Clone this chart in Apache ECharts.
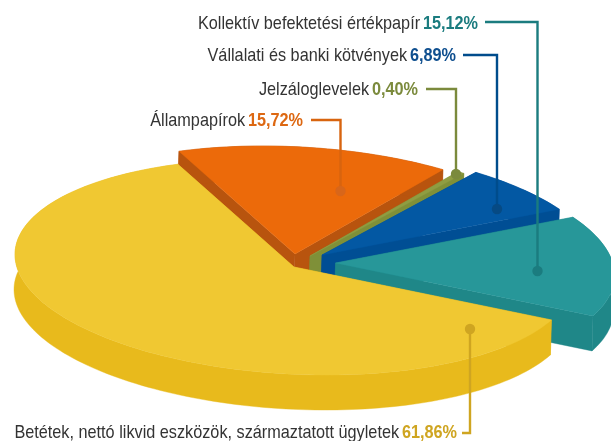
<!DOCTYPE html>
<html><head><meta charset="utf-8">
<style>html,body{margin:0;padding:0;background:#fff}#c{width:611px;height:441px}</style>
<script src="https://cdn.jsdelivr.net/npm/echarts@6/dist/echarts.min.js"></script>
</head><body><div id="c"></div>
<script>
// Data, in pie order (clockwise from the start angle)
const categories = ['Betétek, nettó likvid eszközök, származtatott ügyletek','Állampapírok','Jelzáloglevelek','Vállalati és banki kötvények','Kollektív befektetési értékpapír'];
const shares = [61.86,15.72,0.40,6.89,15.12];
const shareLabels = ['61,86%','15,72%','0,40%','6,89%','15,12%'];
// Styling
const topColors  = ['#F0C832','#EC6A0A','#8F9D42','#0358A3','#279799'];
const sideColors = ['#E8BA1C','#B8540E','#7F9038','#004E94','#1F8788'];
const lineColors = ['#CFA521','#D8640F','#7B8A3C','#004C8C','#1B7C7F'];
const dotColors  = ['#CFA521','#D8661A','#7B8A3C','#064A84','#1B7C7F'];
const valueColors= ['#CFA521','#DD6812','#7B8A3C','#0F4F8F','#1B7C7F'];
const explodeX = [0,1,16,28,41.6];
const explodeY = [0,-13,-11,-12,-4];
const drawOrder = [1,2,3,4,0];
// Projection of the pie disc
const CX=294, CY=267, AX=279, CYX=12.5, DY=107.3, DEPTH=35, START=22.7;
// Annotations
const labelX = [457,303,418,456,478];
const labelY = [433,121,90,56,24];
const leaderX0 = [462,311,426,463,485];
const elbowX  = [470,340.5,456,497,537.5];
const elbowY  = [433,120,89,55,22];
const dotY    = [329,191,174,209,271];

const sweeps = shares.map(s=>s/100*360);
const total = sweeps.reduce((a,b)=>a+b,0);
const startAngles = sweeps.map((_,i)=>START+sweeps.slice(0,i).reduce((a,b)=>a+b,0)*360/total);

function rimPoints(i){
  const n=Math.max(4,Math.ceil(sweeps[i]/1.5)), pts=[];
  for(let k=0;k<=n;k++){
    const t=(startAngles[i]+sweeps[i]*k/n)*Math.PI/180;
    pts.push([CX+explodeX[i]+AX*Math.cos(t), CY+explodeY[i]+CYX*Math.cos(t)+DY*Math.sin(t)]);
  }
  return pts;
}
const down=p=>[p[0]-1,p[1]+DEPTH];
function poly(points,fill){
  return {type:'polygon',shape:{points},style:{fill,stroke:fill,lineWidth:0.4}};
}
function renderSlice(params,api){
  const i=api.value(0);
  const apex=[CX+explodeX[i],CY+explodeY[i]];
  const rim=rimPoints(i), a=rim[0], b=rim[rim.length-1];
  const side=sideColors[i];
  return {type:'group',children:[
    poly([apex,a,down(a),down(apex)],side),
    poly([apex,b,down(b),down(apex)],side),
    poly(rim.concat(rim.slice().reverse().map(down)),side),
    poly([apex].concat(rim),topColors[i])
  ]};
}
const textFont='"Liberation Sans","Arimo",sans-serif';
const graphics=[];
categories.forEach((c,i)=>{
  const pts=[[leaderX0[i],elbowY[i]],[elbowX[i],elbowY[i]],[elbowX[i],dotY[i]]];
  graphics.push({type:'polyline',z:10,shape:{points:pts},style:{stroke:lineColors[i],lineWidth:2.4,fill:null}});
  graphics.push({type:'circle',z:11,shape:{cx:elbowX[i],cy:dotY[i],r:5.2},style:{fill:dotColors[i]}});
  graphics.push({type:'text',z:12,x:labelX[i],y:labelY[i],scaleX:0.855,style:{
    text:'{n|'+c+'} {v|'+shareLabels[i]+'}',align:'right',verticalAlign:'middle',
    rich:{n:{fontFamily:textFont,fontSize:19,fill:'#333333'},
          v:{fontFamily:textFont,fontSize:19,fontWeight:'bold',fill:valueColors[i]}}
  }});
});
const chart=echarts.init(document.getElementById('c'),null,{renderer:'canvas'});
chart.setOption({
  animation:false,
  series:[{type:'custom',coordinateSystem:'none',renderItem:renderSlice,silent:true,clip:false,
    data:drawOrder.map(i=>({name:categories[i],value:[i,shares[i]]}))}],
  graphic:{elements:graphics}
});
</script></body></html>
